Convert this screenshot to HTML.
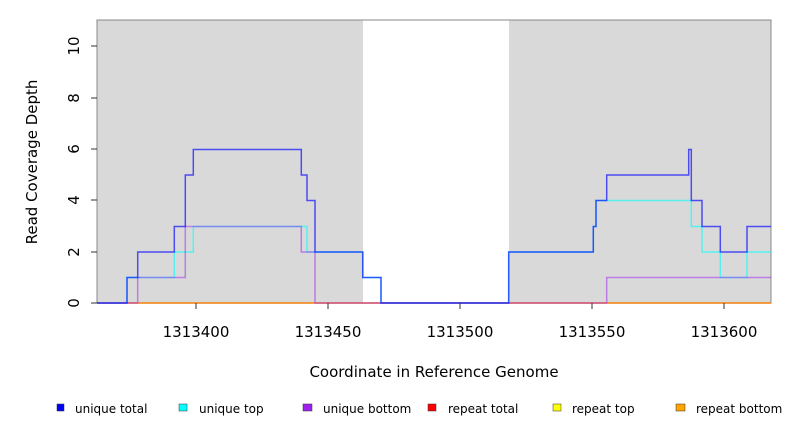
<!DOCTYPE html>
<html><head><meta charset="utf-8"><style>body{margin:0;background:#fff}svg{display:block}text{font-family:"DejaVu Sans","Liberation Sans",sans-serif}</style></head>
<body>
<svg width="792" height="432" viewBox="0 0 792 432" xmlns="http://www.w3.org/2000/svg">
<rect x="97" y="20" width="266" height="283" fill="#d9d9d9"/>
<rect x="509" y="20" width="262" height="283" fill="#d9d9d9"/>
<rect x="97" y="20" width="674" height="283" fill="none" stroke="#888" stroke-width="1"/>
<g fill="none" stroke-width="1.5">
<polyline stroke="#ff0000" stroke-opacity="0.5" points="97,303 771,303"/>
<polyline stroke="#ffa500" stroke-opacity="0.7" points="97,303 771,303"/>
<polyline stroke="#00ffff" stroke-opacity="0.6" points="97,303 127,303 127,277.5 174.3,277.5 174.3,252 193.3,252 193.3,226.5 307,226.5 307,252 363,252 363,277.5 381,277.5 381,303 508.7,303 508.7,252 593.3,252 593.3,226.5 596,226.5 596,200.5 691.3,200.5 691.3,226.5 702,226.5 702,252 720.3,252 720.3,277.5 747,277.5 747,252 771,252"/>
<polyline stroke="#a020f0" stroke-opacity="0.5" points="97,303 137.7,303 137.7,277.5 185.3,277.5 185.3,226.5 301.3,226.5 301.3,252 315,252 315,303 606.7,303 606.7,277.5 771,277.5"/>
<polyline stroke="#0000ff" stroke-opacity="0.65" points="97,303 127,303 127,277.5 137.7,277.5 137.7,252 174.3,252 174.3,226.5 185.3,226.5 185.3,175 193.3,175 193.3,149.5 301.3,149.5 301.3,175 307,175 307,200.5 315,200.5 315,252 362.7,252 362.7,277.5 381,277.5 381,303 508.7,303 508.7,252 593.3,252 593.3,226.5 596,226.5 596,200.5 606.7,200.5 606.7,175 688.7,175 688.7,149.5 691.3,149.5 691.3,200.5 702,200.5 702,226.5 720.3,226.5 720.3,252 747,252 747,226.5 771,226.5"/>
</g>
<g stroke="#333" stroke-width="1">
<line x1="97" y1="46" x2="91" y2="46"/><line x1="97" y1="98" x2="91" y2="98"/><line x1="97" y1="149" x2="91" y2="149"/><line x1="97" y1="200" x2="91" y2="200"/><line x1="97" y1="252" x2="91" y2="252"/><line x1="97" y1="303" x2="91" y2="303"/>
<line x1="196" y1="303" x2="196" y2="309"/><line x1="328" y1="303" x2="328" y2="309"/><line x1="460" y1="303" x2="460" y2="309"/><line x1="592" y1="303" x2="592" y2="309"/><line x1="724" y1="303" x2="724" y2="309"/>
</g>
<g font-size="15" fill="#000" text-anchor="middle">
<text transform="translate(74,46) rotate(-90)" y="5">10</text>
<text transform="translate(74,98) rotate(-90)" y="5">8</text>
<text transform="translate(74,149) rotate(-90)" y="5">6</text>
<text transform="translate(74,200) rotate(-90)" y="5">4</text>
<text transform="translate(74,252) rotate(-90)" y="5">2</text>
<text transform="translate(74,303) rotate(-90)" y="5">0</text>
<text x="196" y="337">1313400</text><text x="328" y="337">1313450</text><text x="460" y="337">1313500</text><text x="592" y="337">1313550</text><text x="724" y="337">1313600</text>
<text x="434" y="377">Coordinate in Reference Genome</text>
<text transform="translate(37,162) rotate(-90)">Read Coverage Depth</text>
</g>
<g font-size="12" fill="#000">
<rect x="57" y="404" width="7" height="7" fill="#0000ff" stroke="#333" stroke-width="0.5"/><text x="75" y="413">unique total</text>
<rect x="179" y="404" width="8" height="7" fill="#00ffff" stroke="#333" stroke-width="0.5"/><text x="199" y="413">unique top</text>
<rect x="303" y="404" width="9" height="7" fill="#a020f0" stroke="#333" stroke-width="0.5"/><text x="323" y="413">unique bottom</text>
<rect x="428" y="404" width="8" height="7" fill="#ff0000" stroke="#333" stroke-width="0.5"/><text x="448" y="413">repeat total</text>
<rect x="553" y="404" width="8" height="7" fill="#ffff00" stroke="#333" stroke-width="0.5"/><text x="572" y="413">repeat top</text>
<rect x="676" y="404" width="9" height="7" fill="#ffa500" stroke="#333" stroke-width="0.5"/><text x="696" y="413">repeat bottom</text>
</g>
</svg>
</body></html>
